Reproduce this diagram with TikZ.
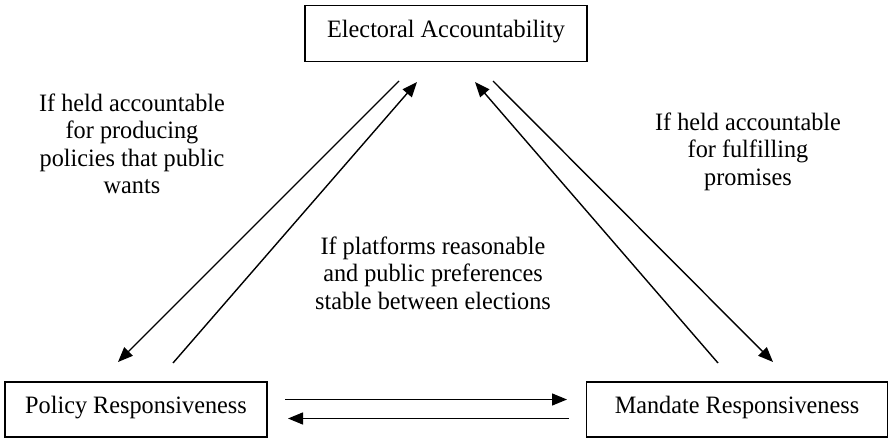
\documentclass[tikz,border=0pt]{standalone}
\usepackage{fontspec}
\setmainfont{Liberation Serif}[FakeStretch=0.97]
\usetikzlibrary{arrows.meta}
\begin{document}
\begin{tikzpicture}[x=1pt,y=-1pt,
  box/.style={draw,line width=1.3pt,inner sep=0pt,text height=18pt,font=\fontsize{25}{27.5}\selectfont},
  lbl/.style={align=center,inner sep=0pt,font=\fontsize{25}{27.5}\selectfont},
  conn/.style={line width=1.4pt,-{Triangle[length=15pt,width=12pt]}}]
\useasboundingbox (0,0) rectangle (888,438);
\node[box,minimum width=282pt,minimum height=56pt,text depth=10.8pt] (EA) at (446,33.7) {Electoral Accountability\hspace{8pt}};
\node[box,minimum width=262pt,minimum height=55pt,text depth=10.4pt] (PR) at (136,409.5) {Policy Responsiveness\hspace{5pt}};
\node[box,minimum width=301pt,minimum height=55pt,text depth=10.4pt] (MR) at (737,409.5) {Mandate Responsiveness\hspace{8pt}};
\node[lbl] (L1) at (132,143.6) {If held accountable\\for producing\\policies that public\\wants};
\node[lbl] (L2) at (748,151.6) {If held accountable\\for fulfilling\\promises};
\node[lbl] (L3) at (433,273) {If platforms reasonable\\and public preferences\\stable between elections};
\coordinate (a1) at (399,81); \coordinate (a2) at (118,362);
\coordinate (b1) at (173,363); \coordinate (b2) at (417,82);
\coordinate (c1) at (718,363); \coordinate (c2) at (475,82);
\coordinate (d1) at (493,81); \coordinate (d2) at (773,362);
\coordinate (e1) at (285,399.5); \coordinate (e2) at (567,399.5);
\coordinate (f1) at (569,418.5); \coordinate (f2) at (288,418.5);
\draw[conn] (a1) -- (a2);
\draw[conn] (b1) -- (b2);
\draw[conn] (c1) -- (c2);
\draw[conn] (d1) -- (d2);
\draw[conn] (e1) -- (e2);
\draw[conn] (f1) -- (f2);
\end{tikzpicture}
\end{document}
